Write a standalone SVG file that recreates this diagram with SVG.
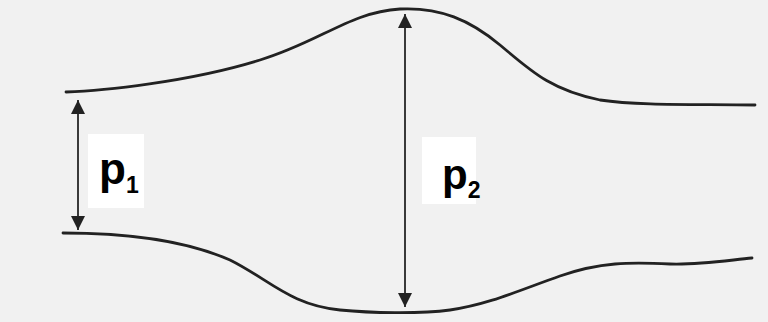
<svg xmlns="http://www.w3.org/2000/svg" width="768" height="322" viewBox="0 0 768 322">
  <style>
    .wall { fill: none; stroke: #222; stroke-width: 2.8; stroke-linecap: round; }
    .dim { stroke: #3a3a3a; stroke-width: 2; fill: none; }
    .lbl { font-family: "Liberation Sans", Arial, sans-serif; font-weight: bold; fill: #000; }
    .pad { fill: #ffffff; }
  </style>
  <defs>
    <marker id="ah" viewBox="0 0 14 14" refX="14" refY="7" markerWidth="14" markerHeight="14" markerUnits="userSpaceOnUse" orient="auto-start-reverse">
      <path d="M0,0 L14,7 L0,14 Z" fill="#222"/>
    </marker>
  </defs>
  <rect x="0" y="0" width="768" height="322" fill="#f1f1f1"/>

  <g id="walls">
    <path id="upper-wall" class="wall" d="M66,92 C100,91 190,82 260,60 C320,42 350,12 400,9 C440,7 470,20 500,45 C530,70 550,90 600,100 C640,106 700,104 755,105"/>
    <path id="lower-wall" class="wall" d="M63,233 C120,233 180,238 230,260 C270,280 290,305 340,310 C370,313 420,314 450,310 C490,304 520,290 560,276 C600,262 630,262 670,264 C700,265 730,260 752,258"/>
  </g>

  <g id="connectors">
    <line class="dim" x1="78" y1="100" x2="78" y2="230" marker-start="url(#ah)" marker-end="url(#ah)"/>
    <line class="dim" x1="405" y1="14" x2="405" y2="307" marker-start="url(#ah)" marker-end="url(#ah)"/>
  </g>

  <g id="label-p1">
    <rect class="pad" x="88" y="134" width="56" height="74"/>
    <text class="lbl" x="99" y="184" font-size="44">p<tspan dy="9" font-size="23">1</tspan></text>
  </g>

  <g id="label-p2">
    <rect class="pad" x="422" y="137" width="54" height="67"/>
    <text class="lbl" x="442" y="189" font-size="42">p<tspan dy="9" font-size="23">2</tspan></text>
  </g>
</svg>
